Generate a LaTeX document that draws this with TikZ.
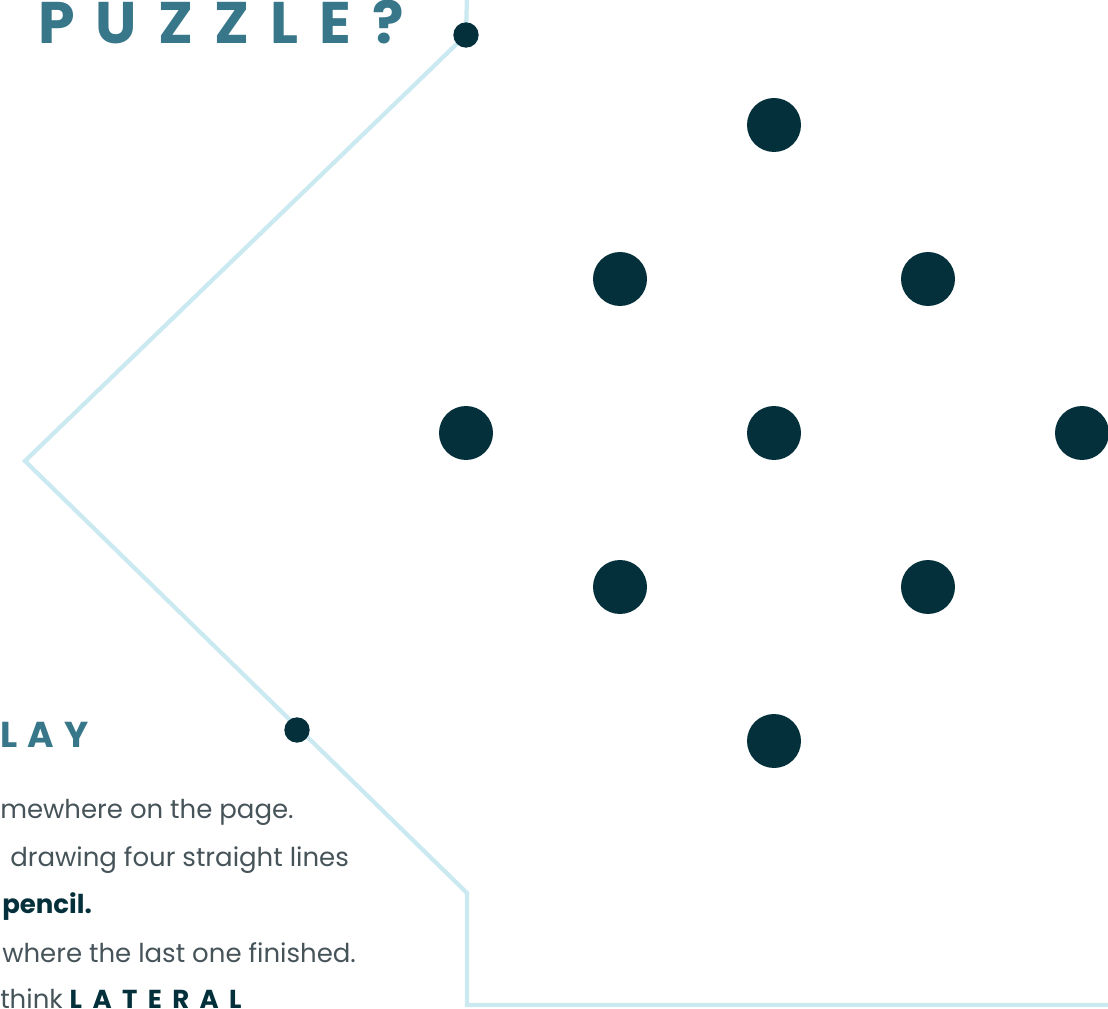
\documentclass[tikz,border=0pt]{standalone}
\usepackage{fontspec}
\setmainfont{Poppins}
\usetikzlibrary{positioning}
\definecolor{puzzleteal}{RGB}{55,119,137}
\definecolor{dotdark}{RGB}{3,48,58}
\definecolor{guideblue}{RGB}{203,233,240}
\definecolor{bodygray}{RGB}{70,84,90}
\begin{document}
\begin{tikzpicture}[x=0.75pt, y=-0.75pt,
    bigdot/.style={circle, fill=dotdark, inner sep=0pt, minimum size=40.5pt},
    pindot/.style={circle, fill=dotdark, inner sep=0pt, minimum size=19pt},
    guide/.style={draw=guideblue, line width=3.2pt, line join=miter},
    bodytext/.style={anchor=base west, inner sep=0pt, text=bodygray, font=\fontsize{19.5}{24}\selectfont},
    headtext/.style={anchor=base west, inner sep=0pt, text=puzzleteal},
    ]
    \useasboundingbox (0,0) rectangle (1108,1009);
    \clip (0,0) rectangle (1108,1009);

    % 引导线
    \coordinate (top) at (467,-5);
    \coordinate (pinA) at (466,35);
    \coordinate (tip) at (25,461);
    \coordinate (bend) at (467,893);
    \coordinate (corner) at (467,1005);
    \coordinate (end) at (1115,1005);
    \draw[guide] (top) -- (pinA) -- (tip) -- (bend) -- (corner) -- (end);
    \node[pindot] (pin1) at (pinA) {};
    \node[pindot] (pin2) at (297,730) {};

    % 九个点
    \foreach \a in {0,1,2} {
        \foreach \b in {0,1,2} {
            \node[bigdot] (dot-\a-\b) at ({774+154*(\a-\b)}, {125+154*(\a+\b)}) {};
        }
    }

    % 标题
    \node[headtext, font={\fontsize{44}{44}\selectfont\bfseries\addfontfeatures{LetterSpace=36}}] (title) at (38,44) {PUZZLE?};
    \node[headtext, font={\fontsize{27}{27}\selectfont\bfseries\addfontfeatures{LetterSpace=28}}] (play) at (0,747) {LAY};

    % 说明
    \node[bodytext] (line1) at (0,818) {mewhere on the page.};
    \node[bodytext] (line2) at (10,866) {drawing four straight lines};
    \node[bodytext, text=dotdark, font={\fontsize{19.5}{24}\selectfont\bfseries}] (line3) at (2,913) {pencil.};
    \node[bodytext] (line4) at (2,962) {where the last one finished.};
    \node[bodytext] (line5) at (0,1008) {think \textcolor{dotdark}{\bfseries\addfontfeatures{LetterSpace=40}LATERAL}};
\end{tikzpicture}
\end{document}
